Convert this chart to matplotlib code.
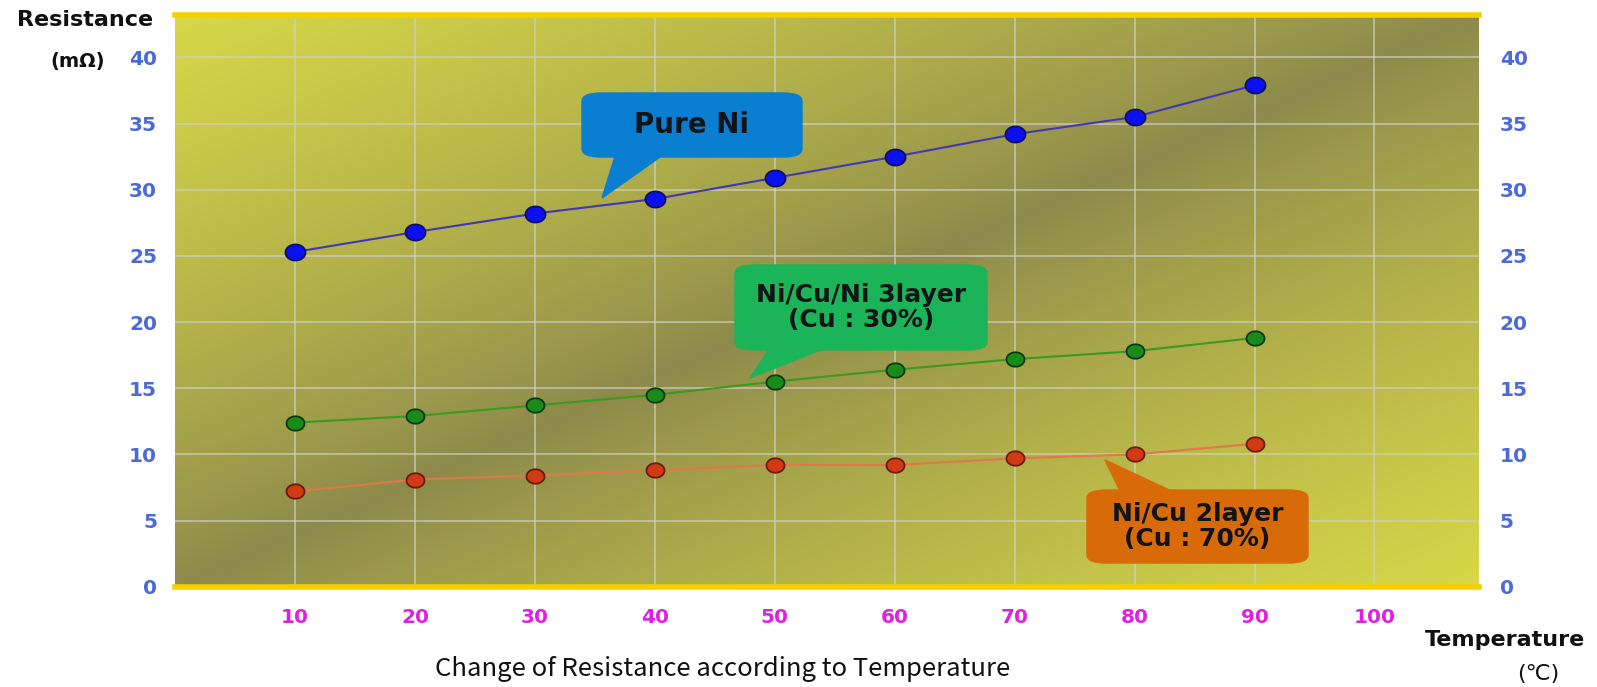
import numpy as np
import matplotlib
matplotlib.use("Agg")
import matplotlib.pyplot as plt
from matplotlib.patches import FancyBboxPatch, Polygon
from matplotlib.path import Path

plt.rcParams['font.family'] = ['Noto Sans CJK KR', 'DejaVu Sans']

# temperature (C) and resistance (mOhm) per sample type
temps = [10, 20, 30, 40, 50, 60, 70, 80, 90]
pure_ni = [25.3, 26.8, 28.2, 29.3, 30.9, 32.5, 34.2, 35.5, 37.9]
three_layer = [12.4, 12.9, 13.7, 14.5, 15.5, 16.4, 17.2, 17.8, 18.8]
two_layer = [7.2, 8.1, 8.4, 8.8, 9.2, 9.2, 9.7, 10.0, 10.8]

x_ticks = [10, 20, 30, 40, 50, 60, 70, 80, 90, 100]
y_ticks = [0, 5, 10, 15, 20, 25, 30, 35, 40]

W, H = 1597, 687
fig = plt.figure(figsize=(W / 100, H / 100), dpi=100)
fig.patch.set_facecolor('white')
ax = fig.add_axes([0.1096, 0.146, 0.8164, 0.832])
ax.set_xlim(0, 108.7)
ax.set_ylim(0, 43.2)

# diagonal olive/yellow background
n = 300
u, v = np.meshgrid(np.linspace(0, 1, n), np.linspace(0, 1, n))
t = np.abs(u - v) ** 0.8
dark = np.array([0x8c, 0x89, 0x4c]) / 255
light = np.array([0xd8, 0xd8, 0x48]) / 255
img = dark[None, None, :] * (1 - t[..., None]) + light[None, None, :] * t[..., None]
ax.imshow(img, extent=[0, 1, 0, 1], origin='lower', transform=ax.transAxes,
          aspect='auto', zorder=0, interpolation='bilinear')

tick_font = dict(family='DejaVu Sans', weight='bold', size=14.5)

ax.set_xticks(x_ticks)
ax.set_yticks(y_ticks)
ax.grid(True, color='#d0d0c8', linewidth=1.2, alpha=0.75, zorder=1)
ax.tick_params(length=0)
ax.tick_params(axis='x', colors='#e020e0', pad=15)
ax.tick_params(axis='y', colors='#4a6ad8', pad=13)
for lab in ax.get_xticklabels() + ax.get_yticklabels():
    lab.set(**tick_font)
for s in ['left', 'right']:
    ax.spines[s].set_visible(False)
for s in ['top', 'bottom']:
    ax.spines[s].set_color('#f5d000')
    ax.spines[s].set_linewidth(4)

ax_r = ax.twinx()
ax_r.set_ylim(ax.get_ylim())
ax_r.set_yticks(y_ticks)
ax_r.tick_params(length=0, colors='#4a6ad8', pad=15)
for lab in ax_r.get_yticklabels():
    lab.set(**tick_font)
for s in ax_r.spines.values():
    s.set_visible(False)

# slightly flattened round marker
th = np.linspace(0, 2 * np.pi, 40)
oval = Path(np.column_stack([np.cos(th), 0.8 * np.sin(th)]))

ax.plot(temps, pure_ni, color='#4038b8', lw=1.5, marker=oval, ms=14.5,
        mfc='#0a10f0', mec='#101060', mew=1.3, zorder=4)
ax.plot(temps, three_layer, color='#3a9a20', lw=1.5, marker=oval, ms=13,
        mfc='#1a8a1a', mec='#0a3a0a', mew=1.3, zorder=4)
ax.plot(temps, two_layer, color='#e07848', lw=1.5, marker=oval, ms=13,
        mfc='#d23a14', mec='#6a1a0a', mew=1.3, zorder=4)


def px(x, y):
    return x / W, 1 - y / H


def callout(box, tail, color, text, size):
    x0, y0, x1, y1 = box
    bx, by = px(x0, y1)
    bw, bh = (x1 - x0) / W, (y1 - y0) / H
    fig.patches.append(FancyBboxPatch((bx, by), bw, bh, transform=fig.transFigure,
                                      boxstyle='round,pad=0,rounding_size=0.012',
                                      fc=color, ec=color, zorder=5))
    fig.patches.append(Polygon([px(*p) for p in tail], closed=True,
                               transform=fig.transFigure, fc=color, ec=color,
                               zorder=5))
    cx, cy = px((x0 + x1) / 2, (y0 + y1) / 2)
    fig.text(cx, cy, text, ha='center', va='center', fontsize=size,
             fontweight='bold', color='#101418', linespacing=1.1,
             family='DejaVu Sans', zorder=6)


callout((582, 93, 802, 157), [(617, 150), (670, 150), (602, 198)],
        '#0a7ed0', 'Pure Ni', 20)
callout((735, 265, 987, 350), [(772, 345), (833, 345), (750, 378)],
        '#1cb458', 'Ni/Cu/Ni 3layer\n(Cu : 30%)', 18)
callout((1087, 490, 1308, 563), [(1122, 495), (1180, 495), (1105, 460)],
        '#d86a08', 'Ni/Cu 2layer\n(Cu : 70%)', 18)

label_font = dict(family='DejaVu Sans', color='#101010', ha='center', va='center')
fig.text(*px(85, 20), 'Resistance', fontsize=16, fontweight='bold', **label_font)
fig.text(*px(78, 61), '(m\u03a9)', fontsize=14, fontweight='bold', **label_font)
fig.text(*px(1505, 640), 'Temperature', fontsize=16, fontweight='bold',
         **label_font)
fig.text(*px(1538, 674), '(\u2103)', fontsize=16, **label_font)
fig.text(*px(723, 669), 'Change of Resistance according to Temperature',
         ha='center', va='center', fontsize=18.5, color='#101010')

fig.savefig('out.png', dpi=100)
